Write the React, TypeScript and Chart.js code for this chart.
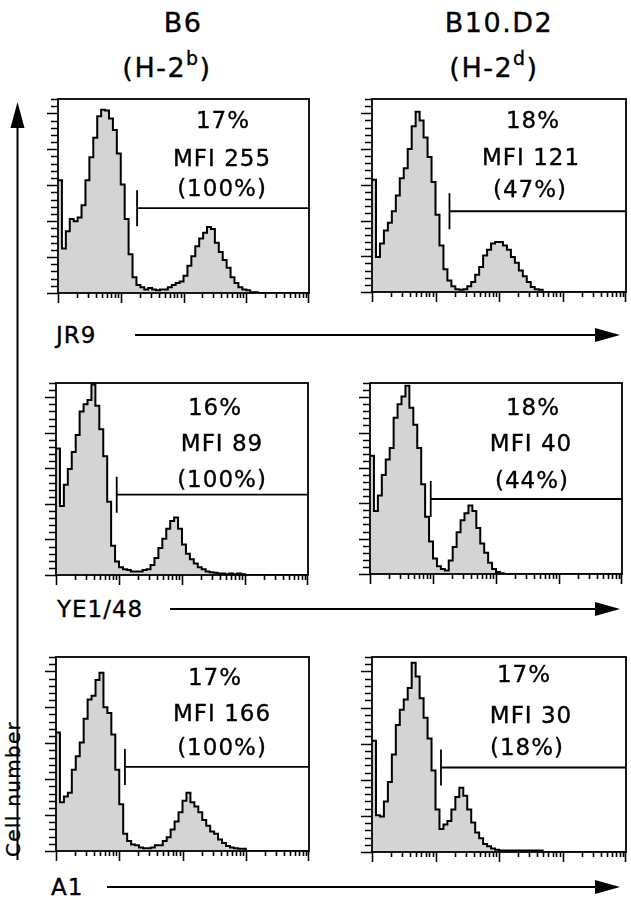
import React, { useEffect, useRef } from "react";
import { Chart, registerables } from "chart.js";

Chart.register(...registerables);

// ---------- data ----------
const BINS_PER_DECADE = 16;
const X_MIN = 1;
const X_MAX = 10000;
const Y_MAX = 270;

const strains = ["B6", "B10.D2"];
const haplotypes = ["b", "d"];
const antibodies = ["JR9", "YE1/48", "A1"];

const jr9B6 = [157, 62, 86, 103, 100, 105, 122, 157, 189, 216, 246, 255, 254, 243, 227, 194, 151, 103, 54, 22, 11, 8, 5, 7, 5, 4, 5, 5, 8, 11, 14, 16, 24, 38, 51, 65, 76, 84, 92, 89, 70, 57, 46, 35, 22, 14, 8, 5, 4, 1, 1, 0];
const jr9B10 = [157, 49, 68, 86, 97, 113, 135, 159, 173, 200, 232, 252, 240, 216, 189, 154, 108, 65, 32, 16, 8, 4, 3, 4, 8, 14, 24, 35, 51, 59, 68, 70, 70, 65, 59, 49, 41, 30, 22, 14, 7, 4, 3, 0];
const ye148B6 = [178, 97, 127, 149, 173, 197, 230, 240, 246, 268, 238, 205, 167, 103, 41, 19, 11, 8, 7, 5, 5, 5, 7, 8, 14, 24, 38, 51, 65, 76, 81, 65, 43, 30, 22, 16, 11, 8, 5, 4, 3, 2, 2, 1, 2, 1, 2, 1, 0];
const ye148B10 = [167, 89, 111, 140, 162, 178, 221, 240, 251, 266, 235, 211, 178, 127, 81, 46, 22, 11, 7, 5, 19, 38, 59, 76, 86, 97, 89, 65, 43, 30, 16, 7, 3, 1, 0];
const a1B6 = [165, 68, 76, 81, 113, 132, 151, 184, 211, 216, 238, 248, 200, 192, 162, 113, 65, 24, 14, 9, 8, 5, 4, 4, 5, 8, 8, 14, 19, 30, 41, 54, 70, 81, 68, 62, 54, 43, 35, 27, 24, 16, 11, 7, 5, 4, 3, 3, 0];
const a1B10 = [154, 51, 49, 70, 97, 135, 176, 197, 211, 227, 262, 243, 213, 186, 157, 113, 59, 32, 38, 43, 59, 76, 89, 78, 59, 41, 27, 19, 11, 8, 5, 3, 2, 2, 2, 2, 2, 2, 2, 2, 2, 2, 2, 0];

const gateX = [18.2, 16.6, 9.2, 9.2, 12.3, 12.2];
const gateY = [118, 113, 113, 106, 117, 117];
const percentLabels = ["17%", "18%", "16%", "18%", "17%", "17%"];
const mfiLabels = ["MFI 255", "MFI 121", "MFI 89", "MFI 40", "MFI 166", "MFI 30"];
const relativeLabels = ["(100%)", "(47%)", "(100%)", "(44%)", "(100%)", "(18%)"];

const histograms = [jr9B6, jr9B10, ye148B6, ye148B10, a1B6, a1B10];

// ---------- layout (page pixels) ----------
const frames = [
  { l: 58, t: 99, r: 309, b: 293 },
  { l: 372, t: 99, r: 626, b: 292 },
  { l: 56, t: 383, r: 308, b: 575 },
  { l: 370, t: 383, r: 622, b: 574 },
  { l: 56, t: 657, r: 309, b: 851 },
  { l: 372, t: 657, r: 626, b: 852 },
];
const textPos = [
  [[223, 120], [222, 158], [222, 188]],
  [[533, 120], [531, 157], [530, 189]],
  [[215, 407], [222, 443], [222, 479]],
  [[533, 407], [531, 443], [532, 480]],
  [[215, 677], [222, 713], [222, 747]],
  [[524, 674], [531, 715], [527, 747]],
];
const PAD = { left: 14, top: 4, right: 4, bottom: 14 };
const FONT = '"DejaVu Sans", Verdana, sans-serif';

const flowPlugin = {
  id: "flow",
  afterDatasetsDraw(chart: any, _args: any, opts: any) {
    const { ctx, chartArea: ca, scales } = chart;
    const xs = scales.x;
    const ys = scales.y;
    ctx.save();
    ctx.strokeStyle = "#000";
    ctx.lineWidth = 1.8;
    ctx.strokeRect(ca.left, ca.top, ca.right - ca.left, ca.bottom - ca.top);
    ctx.lineWidth = 1.6;
    ctx.beginPath();
    for (let v = 0; v <= Y_MAX; v += 10) {
      const py = Math.round(ys.getPixelForValue(v)) + 0.5;
      const len = v % 50 === 0 ? 11 : 7;
      ctx.moveTo(ca.left - len, py);
      ctx.lineTo(ca.left, py);
    }
    for (let k = 0; k < 4; k++) {
      for (let m = 1; m <= 9; m++) {
        const v = m * Math.pow(10, k);
        const px = Math.round(xs.getPixelForValue(v)) + 0.5;
        const len = m === 1 ? 10 : 5;
        ctx.moveTo(px, ca.bottom);
        ctx.lineTo(px, ca.bottom + len);
      }
    }
    const pxEnd = Math.round(xs.getPixelForValue(X_MAX)) - 0.5;
    ctx.moveTo(pxEnd, ca.bottom);
    ctx.lineTo(pxEnd, ca.bottom + 10);
    ctx.stroke();
    // gate marker
    const gx = xs.getPixelForValue(opts.gx);
    const gy = ys.getPixelForValue(opts.gy);
    ctx.lineWidth = 1.8;
    ctx.beginPath();
    ctx.moveTo(gx, gy - 18);
    ctx.lineTo(gx, gy + 18);
    ctx.moveTo(gx, gy);
    ctx.lineTo(ca.right, gy);
    ctx.stroke();
    ctx.restore();
  },
};

function Panel({ idx }: { idx: number }) {
  const ref = useRef<HTMLCanvasElement>(null);
  const f = frames[idx];
  const w = f.r - f.l + PAD.left + PAD.right;
  const h = f.b - f.t + PAD.top + PAD.bottom;
  useEffect(() => {
    const counts = histograms[idx];
    const pts = counts.map((c, i) => ({ x: Math.pow(10, i / BINS_PER_DECADE), y: c }));
    pts.push({ x: X_MAX, y: 0 });
    const chart = new Chart(ref.current as HTMLCanvasElement, {
      type: "line",
      data: {
        datasets: [
          {
            data: pts,
            stepped: true,
            borderColor: "#000",
            borderWidth: 2,
            backgroundColor: "#d4d4d4",
            fill: "origin",
            pointRadius: 0,
          } as any,
        ],
      },
      options: {
        animation: false,
        responsive: false,
        events: [],
        layout: { padding: PAD },
        plugins: {
          legend: { display: false },
          tooltip: { enabled: false },
          flow: { gx: gateX[idx], gy: gateY[idx] },
        } as any,
        scales: {
          x: { type: "logarithmic", min: X_MIN, max: X_MAX, display: false },
          y: { type: "linear", min: 0, max: Y_MAX, display: false },
        },
      },
      plugins: [flowPlugin],
    });
    return () => chart.destroy();
  }, [idx]);
  return (
    <canvas
      ref={ref}
      width={w}
      height={h}
      style={{ position: "absolute", left: f.l - PAD.left, top: f.t - PAD.top, width: w, height: h }}
    />
  );
}

function Txt({ x, y, size, children, ls = 1, anchor = "center" }: any) {
  return (
    <div
      style={{
        position: "absolute",
        left: x,
        top: y,
        transform: anchor === "center" ? "translate(-50%, -50%)" : "translate(0, -50%)",
        fontFamily: FONT,
        fontSize: size,
        letterSpacing: ls,
        lineHeight: 1,
        whiteSpace: "nowrap",
        color: "#000",
        WebkitTextStroke: "0.35px #000",
      }}
    >
      {children}
    </div>
  );
}

export default function App() {
  const headerCx = [183, 499];
  const hapCx = [167, 494];
  const labelRows = [
    { x: 56, y: 335, x0: 135 },
    { x: 57, y: 609, x0: 170 },
    { x: 51, y: 887, x0: 107 },
  ];
  return (
    <div style={{ position: "absolute", left: 0, top: 0, width: 631, height: 900, background: "#fff", overflow: "hidden" }}>
      {strains.map((s, i) => (
        <React.Fragment key={s}>
          <Txt x={headerCx[i]} y={22} size={27} ls={1.5}>{s}</Txt>
          <Txt x={hapCx[i]} y={67} size={27} ls={1.5}>
            (H-2<sup style={{ fontSize: "0.7em", verticalAlign: "0.6em", lineHeight: 0 }}>{haplotypes[i]}</sup>)
          </Txt>
        </React.Fragment>
      ))}
      {frames.map((_, i) => (
        <Panel key={i} idx={i} />
      ))}
      {frames.map((_, i) => (
        <React.Fragment key={"t" + i}>
          <Txt x={textPos[i][0][0]} y={textPos[i][0][1]} size={23}>{percentLabels[i]}</Txt>
          <Txt x={textPos[i][1][0]} y={textPos[i][1][1]} size={23}>{mfiLabels[i]}</Txt>
          <Txt x={textPos[i][2][0]} y={textPos[i][2][1]} size={23}>{relativeLabels[i]}</Txt>
        </React.Fragment>
      ))}
      {antibodies.map((a, i) => (
        <Txt key={a} x={labelRows[i].x} y={labelRows[i].y} size={23} anchor="left">{a}</Txt>
      ))}
      <div
        style={{
          position: "absolute",
          left: 13,
          top: 789,
          transform: "translate(-50%, -50%) rotate(-90deg)",
          fontFamily: FONT,
          fontSize: 20,
          letterSpacing: 1.3,
          lineHeight: 1,
          whiteSpace: "nowrap",
          WebkitTextStroke: "0.3px #000",
        }}
      >
        Cell number
      </div>
      <svg width={631} height={900} style={{ position: "absolute", left: 0, top: 0, pointerEvents: "none" }}>
        <line x1={17.5} y1={860} x2={17.5} y2={124} stroke="#000" strokeWidth={2} />
        <polygon points="17.5,102 10.5,128 24.5,128" fill="#000" />
        {labelRows.map((r, i) => (
          <React.Fragment key={i}>
            <line x1={r.x0} y1={r.y} x2={598} y2={r.y} stroke="#000" strokeWidth={2} />
            <polygon points={`620,${r.y} 595,${r.y - 7} 595,${r.y + 7}`} fill="#000" />
          </React.Fragment>
        ))}
      </svg>
    </div>
  );
}
